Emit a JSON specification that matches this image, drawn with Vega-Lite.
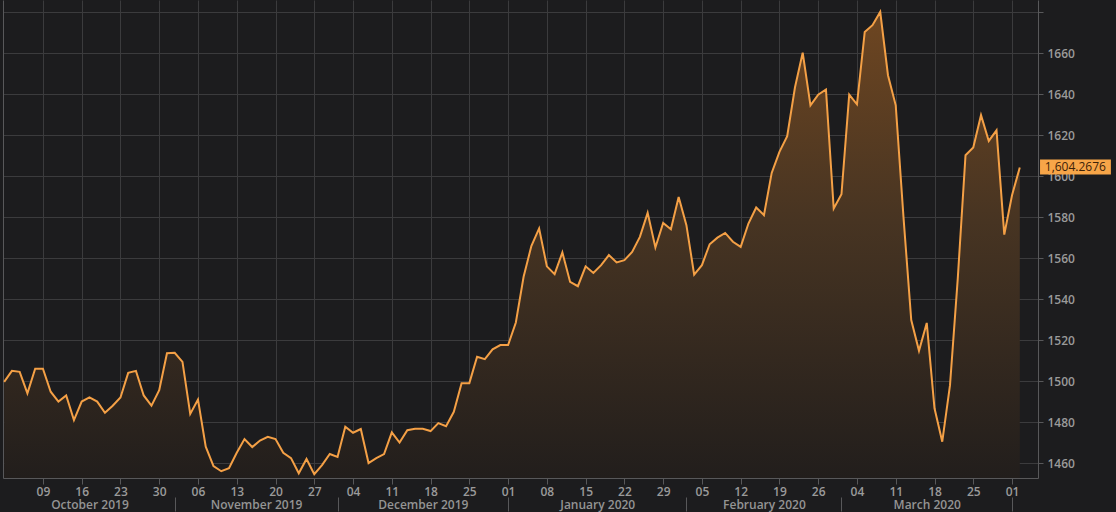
{
  "$schema": "https://vega.github.io/schema/vega-lite/v6.json",
  "width": 1035,
  "height": 478,
  "autosize": {"type": "none"},
  "padding": {"left": 3, "top": 0, "right": 78, "bottom": 34},
  "background": "#1c1c1e",
  "config": {
    "view": {"stroke": null},
    "axis": {
      "labelFont": "Open Sans",
      "labelFontSize": 12,
      "labelFontWeight": 600,
      "labelColor": "#9a9a9a",
      "gridColor": "#3b3b3d",
      "gridWidth": 1,
      "domainColor": "#58585a",
      "tickColor": "#58585a",
      "title": null
    }
  },
  "data": {"values": [
    {"i":0,"date":"2019-10-02","v":1499.6},{"i":1,"date":"2019-10-03","v":1505},{"i":2,"date":"2019-10-04","v":1504.5},{"i":3,"date":"2019-10-07","v":1494},{"i":4,"date":"2019-10-08","v":1506},
    {"i":5,"date":"2019-10-09","v":1506},{"i":6,"date":"2019-10-10","v":1494.8},{"i":7,"date":"2019-10-11","v":1490},{"i":8,"date":"2019-10-14","v":1493},{"i":9,"date":"2019-10-15","v":1481},
    {"i":10,"date":"2019-10-16","v":1490},{"i":11,"date":"2019-10-17","v":1492},{"i":12,"date":"2019-10-18","v":1490},{"i":13,"date":"2019-10-21","v":1484.5},{"i":14,"date":"2019-10-22","v":1488},
    {"i":15,"date":"2019-10-23","v":1492},{"i":16,"date":"2019-10-24","v":1504},{"i":17,"date":"2019-10-25","v":1505},{"i":18,"date":"2019-10-28","v":1493},{"i":19,"date":"2019-10-29","v":1488},
    {"i":20,"date":"2019-10-30","v":1495.6},{"i":21,"date":"2019-10-31","v":1513.6},{"i":22,"date":"2019-11-01","v":1513.8},{"i":23,"date":"2019-11-04","v":1509.4},{"i":24,"date":"2019-11-05","v":1484},
    {"i":25,"date":"2019-11-06","v":1491},{"i":26,"date":"2019-11-07","v":1468},{"i":27,"date":"2019-11-08","v":1458.5},{"i":28,"date":"2019-11-11","v":1456},{"i":29,"date":"2019-11-12","v":1457.5},
    {"i":30,"date":"2019-11-13","v":1465},{"i":31,"date":"2019-11-14","v":1471.7},{"i":32,"date":"2019-11-15","v":1467.8},{"i":33,"date":"2019-11-18","v":1471},{"i":34,"date":"2019-11-19","v":1472.8},
    {"i":35,"date":"2019-11-20","v":1471.7},{"i":36,"date":"2019-11-21","v":1465},{"i":37,"date":"2019-11-22","v":1462.4},{"i":38,"date":"2019-11-25","v":1455},{"i":39,"date":"2019-11-26","v":1462},
    {"i":40,"date":"2019-11-27","v":1454.6},{"i":41,"date":"2019-11-28","v":1459},{"i":42,"date":"2019-11-29","v":1464.4},{"i":43,"date":"2019-12-02","v":1463},{"i":44,"date":"2019-12-03","v":1477.7},
    {"i":45,"date":"2019-12-04","v":1474.8},{"i":46,"date":"2019-12-05","v":1476.6},{"i":47,"date":"2019-12-06","v":1460},{"i":48,"date":"2019-12-09","v":1462.4},{"i":49,"date":"2019-12-10","v":1464.4},
    {"i":50,"date":"2019-12-11","v":1475},{"i":51,"date":"2019-12-12","v":1470},{"i":52,"date":"2019-12-13","v":1476},{"i":53,"date":"2019-12-16","v":1476.7},{"i":54,"date":"2019-12-17","v":1476.7},
    {"i":55,"date":"2019-12-18","v":1475.6},{"i":56,"date":"2019-12-19","v":1479.5},{"i":57,"date":"2019-12-20","v":1478},{"i":58,"date":"2019-12-23","v":1485},{"i":59,"date":"2019-12-24","v":1499},
    {"i":60,"date":"2019-12-25","v":1499},{"i":61,"date":"2019-12-26","v":1511.9},{"i":62,"date":"2019-12-27","v":1510.7},{"i":63,"date":"2019-12-30","v":1515.5},{"i":64,"date":"2019-12-31","v":1517.6},
    {"i":65,"date":"2020-01-01","v":1517.6},{"i":66,"date":"2020-01-02","v":1528.6},{"i":67,"date":"2020-01-03","v":1550.9},{"i":68,"date":"2020-01-06","v":1565.9},{"i":69,"date":"2020-01-07","v":1574.5},
    {"i":70,"date":"2020-01-08","v":1556},{"i":71,"date":"2020-01-09","v":1552.2},{"i":72,"date":"2020-01-10","v":1562.8},{"i":73,"date":"2020-01-13","v":1548.4},{"i":74,"date":"2020-01-14","v":1546.3},
    {"i":75,"date":"2020-01-15","v":1556},{"i":76,"date":"2020-01-16","v":1552.8},{"i":77,"date":"2020-01-17","v":1556.6},{"i":78,"date":"2020-01-20","v":1561.5},{"i":79,"date":"2020-01-21","v":1557.9},
    {"i":80,"date":"2020-01-22","v":1559},{"i":81,"date":"2020-01-23","v":1563},{"i":82,"date":"2020-01-24","v":1570.4},{"i":83,"date":"2020-01-27","v":1582.1},{"i":84,"date":"2020-01-28","v":1565.2},
    {"i":85,"date":"2020-01-29","v":1577.2},{"i":86,"date":"2020-01-30","v":1574.1},{"i":87,"date":"2020-01-31","v":1589.9},{"i":88,"date":"2020-02-03","v":1576.1},{"i":89,"date":"2020-02-04","v":1552},
    {"i":90,"date":"2020-02-05","v":1556.6},{"i":91,"date":"2020-02-06","v":1566.8},{"i":92,"date":"2020-02-07","v":1570},{"i":93,"date":"2020-02-10","v":1572.3},{"i":94,"date":"2020-02-11","v":1568},
    {"i":95,"date":"2020-02-12","v":1565.5},{"i":96,"date":"2020-02-13","v":1576.9},{"i":97,"date":"2020-02-14","v":1584.7},{"i":98,"date":"2020-02-17","v":1581},{"i":99,"date":"2020-02-18","v":1601.6},
    {"i":100,"date":"2020-02-19","v":1611.9},{"i":101,"date":"2020-02-20","v":1619.5},{"i":102,"date":"2020-02-21","v":1643.3},{"i":103,"date":"2020-02-24","v":1660.3},{"i":104,"date":"2020-02-25","v":1634.6},
    {"i":105,"date":"2020-02-26","v":1639.8},{"i":106,"date":"2020-02-27","v":1642.3},{"i":107,"date":"2020-02-28","v":1584.2},{"i":108,"date":"2020-03-02","v":1591.2},{"i":109,"date":"2020-03-03","v":1639.8},
    {"i":110,"date":"2020-03-04","v":1635.1},{"i":111,"date":"2020-03-05","v":1670.4},{"i":112,"date":"2020-03-06","v":1673.7},{"i":113,"date":"2020-03-09","v":1680.2},{"i":114,"date":"2020-03-10","v":1649.3},
    {"i":115,"date":"2020-03-11","v":1634.6},{"i":116,"date":"2020-03-12","v":1580},{"i":117,"date":"2020-03-13","v":1529.8},{"i":118,"date":"2020-03-16","v":1514.8},{"i":119,"date":"2020-03-17","v":1528.4},
    {"i":120,"date":"2020-03-18","v":1486.7},{"i":121,"date":"2020-03-19","v":1470.4},{"i":122,"date":"2020-03-20","v":1498},{"i":123,"date":"2020-03-23","v":1550},{"i":124,"date":"2020-03-24","v":1610.2},
    {"i":125,"date":"2020-03-25","v":1614},{"i":126,"date":"2020-03-26","v":1629.8},{"i":127,"date":"2020-03-27","v":1617.2},{"i":128,"date":"2020-03-30","v":1622.4},{"i":129,"date":"2020-03-31","v":1571.5},
    {"i":130,"date":"2020-04-01","v":1590.7},{"i":131,"date":"2020-04-02","v":1604.2676}
  ]},
  "resolve": {"axis": {"x": "independent", "y": "independent"}},
  "layer": [
    {
      "mark": {
        "type": "area",
        "color": {
          "gradient": "linear", "x1": 0, "y1": 0, "x2": 0, "y2": 1,
          "stops": [
            {"offset": 0, "color": "#6e4621"},
            {"offset": 0.45, "color": "#473422"},
            {"offset": 1, "color": "#221e1c"}
          ]
        }
      },
      "encoding": {
        "x": {
          "field": "i", "type": "quantitative",
          "scale": {"domain": [-0.15, 133.35], "nice": false, "zero": false},
          "axis": {
            "orient": "bottom",
            "values": [5,10,15,20,25,30,35,40,45,50,55,60,65,70,75,80,85,90,95,100,105,110,115,120,125,130],
            "labelExpr": "timeFormat(datetime(2019, 9, 2 + datum.value / 5 * 7), '%d')",
            "grid": true, "domain": true, "ticks": true, "tickSize": 6,
            "labelPadding": 2, "labelOverlap": false, "labelFlush": false
          }
        },
        "y": {
          "field": "v", "type": "quantitative",
          "scale": {"domain": [1452.7, 1686], "nice": false, "zero": false},
          "axis": {
            "orient": "right",
            "values": [1460,1480,1500,1520,1540,1560,1580,1600,1620,1640,1660,1680],
            "labelExpr": "datum.value >= 1680 ? '' : format(datum.value, 'd')",
            "grid": true, "domain": true, "ticks": true, "tickSize": 5,
            "labelPadding": 4, "labelOverlap": false, "labelFlush": false
          }
        },
        "y2": {"datum": 1452.7}
      }
    },
    {
      "mark": {"type": "line", "color": "#f4a046", "strokeWidth": 2},
      "encoding": {
        "x": {
          "field": "i", "type": "quantitative",
          "axis": {
            "orient": "bottom",
            "values": [22, 43, 65, 88, 108, 130],
            "labels": false, "grid": false, "domain": false,
            "ticks": true, "tickSize": 14, "offset": 19
          }
        },
        "y": {"field": "v", "type": "quantitative", "axis": null}
      }
    },
    {
      "transform": [{"filter": "datum.i == 131"}],
      "mark": {"type": "point", "shape": "M2.7,-1.05H12.15V0.95H2.7Z", "size": 225, "filled": true, "color": "#f7a548", "opacity": 1},
      "encoding": {
        "x": {
          "field": "i", "type": "quantitative",
          "axis": {
            "orient": "bottom",
            "values": [11, 32.5, 54, 76.5, 98, 119],
            "labelExpr": "['October 2019','November 2019','December 2019','January 2020','February 2020','March 2020'][indexof([11, 32.5, 54, 76.5, 98, 119], datum.value)]",
            "labels": true, "grid": false, "domain": false, "ticks": false,
            "tickSize": 0, "offset": 21, "labelPadding": 0,
            "labelOverlap": false, "labelFlush": false, "labelColor": "#949494"
          }
        },
        "y": {
          "field": "v", "type": "quantitative",
          "axis": {"orient": "left", "domain": true, "labels": false, "ticks": false, "grid": false}
        }
      }
    },
    {
      "transform": [{"filter": "datum.i == 131"}],
      "mark": {"type": "text", "align": "left", "baseline": "middle", "dx": 25, "dy": 0, "font": "Open Sans", "fontSize": 12, "color": "#3d2208"},
      "encoding": {
        "x": {"field": "i", "type": "quantitative", "axis": null},
        "y": {"field": "v", "type": "quantitative", "axis": null},
        "text": {"field": "v", "type": "quantitative", "format": ",.4f"}
      }
    }
  ]
}
